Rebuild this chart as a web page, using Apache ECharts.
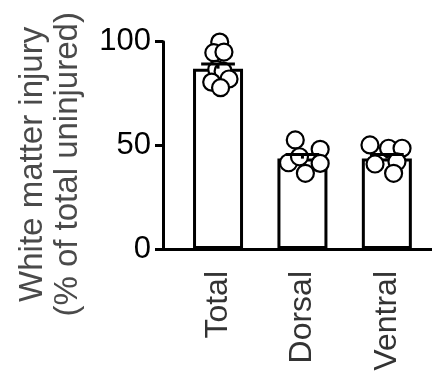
<!DOCTYPE html>
<html>
<head>
<meta charset="utf-8">
<script src="https://cdn.jsdelivr.net/npm/echarts@6/dist/echarts.min.js"></script>
<style>
html,body{margin:0;padding:0;background:#fff;}
#c{width:432px;height:379px;}
</style>
</head>
<body>
<div id="c"></div>
<script>
const categories = ['Total', 'Dorsal', 'Ventral'];
const means = [87, 43.6, 43.6];
const sems = [2.3, 2.0, 2.0];
const totalValues = [99.8, 94.7, 95.0, 86.6, 85.8, 80.5, 82.0, 77.8];
const totalJitter = [0.02, -0.05, 0.07, -0.015, 0.06, -0.075, 0.13, 0.03];
const dorsalValues = [52.6, 41.6, 44.5, 48.1, 41.3, 36.5];
const dorsalJitter = [-0.085, -0.165, -0.035, 0.21, 0.21, 0.035];
const ventralValues = [50.2, 48.6, 48.6, 41.0, 42.1, 36.5];
const ventralJitter = [-0.2, 0.02, 0.18, -0.14, 0.12, 0.08];
const yTicks = [0, 50, 100];

const groups = [
  [totalValues, totalJitter],
  [dorsalValues, dorsalJitter],
  [ventralValues, ventralJitter]
];
const pointData = [];
groups.forEach((g, i) => {
  g[0].forEach((v, k) => pointData.push([i + g[1][k], v]));
});
const barData = means.map((m, i) => [i, m]);
const errData = means.map((m, i) => [i, m, m + sems[i]]);

const FONT = "'Liberation Sans', Arial, Helvetica, sans-serif";
const chart = echarts.init(document.getElementById('c'), null, {renderer: 'canvas'});
chart.setOption({
  animation: false,
  backgroundColor: '#fff',
  grid: {left: 163, right: 0, top: 41.7, bottom: 130, containLabel: false, outerBoundsMode: 'none'},
  xAxis: {
    type: 'value',
    min: -0.652,
    max: 2.535,
    splitLine: {show: false},
    axisLine: {show: true, onZero: false, lineStyle: {color: '#000', width: 3}},
    axisTick: {show: false},
    axisLabel: {
      customValues: [0, 1, 2],
      formatter: v => categories[Math.round(v)] || '',
      rotate: 90,
      margin: 22,
      fontSize: 32,
      fontFamily: FONT,
      color: '#333'
    }
  },
  yAxis: {
    type: 'value',
    min: 0,
    max: 100,
    interval: 50,
    splitLine: {show: false},
    axisLine: {show: true, onZero: false, lineStyle: {color: '#000', width: 3}},
    axisTick: {show: true, length: 8, lineStyle: {color: '#000', width: 3}},
    axisLabel: {
      formatter: v => yTicks.includes(v) ? String(v) : '',
      margin: 12,
      fontSize: 31,
      fontFamily: FONT,
      color: '#000'
    },
    name: 'White matter injury\n(% of total uninjured)',
    nameLocation: 'middle',
    nameGap: 78,
    nameRotate: 90,
    nameTextStyle: {
      fontSize: 33,
      fontFamily: FONT,
      color: '#4a4a4a',
      lineHeight: 35,
      padding: [0, 38, 0, 0]
    }
  },
  series: [
    {
      type: 'bar',
      data: barData,
      barWidth: 50,
      itemStyle: {color: '#fff', borderColor: '#000', borderWidth: 3},
      z: 2
    },
    {
      type: 'scatter',
      data: pointData,
      symbol: 'circle',
      symbolSize: 17,
      itemStyle: {color: '#fff', borderColor: '#000', borderWidth: 2.2, opacity: 1},
      z: 3
    },
    {
      type: 'custom',
      data: errData,
      z: 4,
      renderItem: function (params, api) {
        const x = api.value(0);
        const lo = api.coord([x, api.value(1)]);
        const hi = api.coord([x, api.value(2)]);
        const l = api.coord([x - 0.2, api.value(2)]);
        const r = api.coord([x + 0.2, api.value(2)]);
        const st = {stroke: '#000', lineWidth: 3};
        return {
          type: 'group',
          children: [
            {type: 'line', shape: {x1: lo[0], y1: lo[1], x2: hi[0], y2: hi[1]}, style: st},
            {type: 'line', shape: {x1: l[0], y1: l[1], x2: r[0], y2: r[1]}, style: st}
          ]
        };
      }
    }
  ]
});
</script>
</body>
</html>
